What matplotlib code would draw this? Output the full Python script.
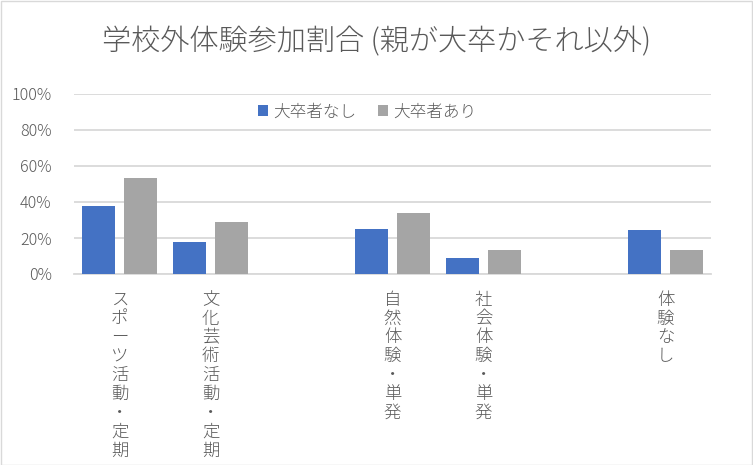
import matplotlib.pyplot as plt
import numpy as np
from matplotlib.ticker import PercentFormatter
from matplotlib.patches import Rectangle

plt.rcParams['font.family'] = ['Noto Sans CJK JP', 'DejaVu Sans']
plt.rcParams['font.weight'] = 'light'

# data (empty slots are gaps in the original)
categories = ['スポーツ活動・定期', '文化芸術活動・定期', '',
              '自然体験・単発', '社会体験・単発', '', '体験なし']
no_grad = [0.38, 0.18, np.nan, 0.25, 0.09, np.nan, 0.245]
grad = [0.535, 0.29, np.nan, 0.34, 0.135, np.nan, 0.135]
series_names = ['大卒者なし', '大卒者あり']
title = '学校外体験参加割合 (親が大卒かそれ以外)'

text_color = '#595959'
blue = '#4472C4'
gray = '#A5A5A5'

fig = plt.figure(figsize=(7.53, 4.65), dpi=100)
ax = fig.add_axes([74 / 753, 1 - 274 / 465, (711 - 74) / 753, (274 - 94) / 465])

x = np.arange(len(categories))
width = 0.36
off = 0.228
ax.bar(x - off, no_grad, width, color=blue, label=series_names[0], zorder=3)
ax.bar(x + off, grad, width, color=gray, label=series_names[1], zorder=3)

ax.set_xlim(-0.5, len(categories) - 0.5)
ax.set_ylim(0, 1.0)
ax.set_yticks(np.arange(0, 1.01, 0.2))
ax.yaxis.set_major_formatter(PercentFormatter(1.0, decimals=0))
ax.grid(axis='y', color='#D9D9D9', linewidth=1.3, zorder=0)
ax.set_axisbelow(True)
for s in ['top', 'right', 'left']:
    ax.spines[s].set_visible(False)
ax.spines['bottom'].set_color('#D9D9D9')
ax.spines['bottom'].set_linewidth(1.3)
ax.tick_params(axis='y', length=0, labelsize=11.5, labelcolor=text_color, pad=16)
ax.tick_params(axis='x', length=0)

ax.set_xticks(x)
ax.set_xticklabels(['\n'.join(c) for c in categories], fontsize=12.5,
                   color=text_color, linespacing=1.06, va='top')
ax.tick_params(axis='x', pad=12)

leg = ax.legend(loc='upper center', bbox_to_anchor=(0.46, 1.03), ncol=2,
                frameon=False, fontsize=12, labelcolor=text_color,
                handlelength=0.6, handleheight=0.6, handletextpad=0.3,
                columnspacing=1.3)

fig.text(0.5, 1 - 42 / 465, title, ha='center', va='center',
         fontsize=21, color=text_color)

fig.patches.append(Rectangle((0.5 / 753, 0.5 / 465), 1 - 1.5 / 753, 1 - 1.5 / 465,
                             transform=fig.transFigure, fill=False,
                             edgecolor='#D9D9D9', linewidth=1))

fig.savefig('out.png', dpi=100)
